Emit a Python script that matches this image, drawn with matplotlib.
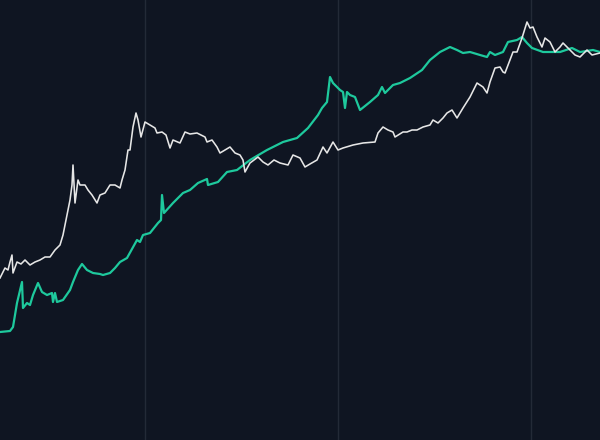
import matplotlib
matplotlib.use("Agg")
import matplotlib.pyplot as plt

# traced series (x position, value)
price_x = [0, 3, 5, 8, 10, 12, 13, 17, 21, 25, 30, 35, 40, 45, 50, 55, 60, 63, 66, 70, 72, 73, 75,
           78, 80, 85, 88, 92, 97, 100, 105, 110, 115, 120, 122, 125, 128, 130, 133, 136, 138, 141,
           145, 150, 155, 157, 162, 166, 170, 173, 180, 185, 190, 197, 205, 207, 212, 217, 220, 225,
           230, 235, 240, 243, 245, 250, 258, 263, 268, 274, 280, 288, 293, 300, 305, 310, 317, 323,
           327, 333, 338, 343, 353, 363, 375, 378, 383, 388, 393, 395, 403, 407, 412, 417, 423, 430,
           433, 438, 443, 447, 452, 457, 463, 470, 477, 483, 487, 490, 495, 500, 503, 505, 510, 513,
           517, 522, 527, 530, 533, 537, 542, 545, 550, 555, 560, 563, 568, 575, 580, 587, 592, 600]
price_y = [162, 168, 172, 170, 178, 185, 167, 178, 176, 180, 175, 178, 180, 183, 183, 190, 195, 205,
           220, 240, 255, 275, 237, 260, 255, 255, 250, 245, 237, 245, 247, 255, 255, 252, 260, 270,
           290, 290, 313, 327, 320, 303, 318, 315, 312, 307, 308, 305, 292, 300, 297, 308, 306, 307,
           303, 298, 300, 293, 287, 290, 293, 287, 285, 280, 268, 277, 283, 278, 275, 280, 277, 275,
           285, 282, 273, 276, 280, 293, 287, 298, 290, 292, 295, 297, 298, 307, 313, 310, 308, 303,
           308, 308, 310, 310, 313, 315, 320, 317, 322, 327, 330, 322, 332, 343, 357, 353, 347, 358,
           372, 373, 368, 367, 380, 388, 388, 402, 418, 412, 413, 403, 393, 402, 398, 388, 393, 397,
           392, 385, 383, 390, 385, 387]

model_x = [0, 10, 13, 17, 22, 23, 27, 30, 33, 38, 42, 47, 52, 53, 55, 57, 63, 70, 73, 78, 82, 87,
           93, 100, 103, 110, 115, 120, 127, 137, 140, 143, 150, 158, 161, 162, 164, 173, 183, 190,
           198, 207, 208, 218, 227, 237, 250, 267, 283, 297, 308, 318, 322, 327, 330, 333, 340, 343,
           345, 347, 350, 355, 360, 370, 378, 382, 385, 393, 400, 410, 422, 430, 440, 450, 457, 463,
           470, 480, 487, 490, 495, 503, 508, 517, 522, 527, 532, 543, 560, 572, 580, 593, 600]
model_y = [108, 109, 113, 137, 158, 132, 137, 135, 145, 157, 148, 145, 147, 138, 147, 138, 140, 150,
           158, 170, 176, 170, 167, 166, 165, 167, 172, 178, 182, 200, 198, 205, 207, 217, 220, 245,
           227, 237, 247, 250, 257, 261, 255, 258, 268, 270, 280, 290, 298, 302, 312, 325, 332, 338,
           363, 357, 350, 348, 332, 348, 345, 343, 330, 338, 345, 353, 347, 355, 357, 362, 370, 380,
           388, 393, 390, 387, 388, 385, 383, 388, 385, 388, 398, 400, 403, 397, 392, 388, 388, 392,
           388, 390, 388]

bg = '#0f1522'
fig = plt.figure(figsize=(6, 4.4), dpi=100, facecolor=bg)
ax = fig.add_axes([0, 0, 1, 1], facecolor=bg)

ax.plot(model_x, model_y, color='#1ec99d', linewidth=1.6)
ax.plot(price_x, price_y, color='#e6e6e6', linewidth=1.15)

ax.set_xlim(0, 600)
ax.set_ylim(0, 440)
ax.set_xticks([144.5, 338, 531])
ax.set_yticks([])
ax.grid(axis='x', color='#232a37', linewidth=1)
ax.tick_params(length=0, labelbottom=False)
for s in ax.spines.values():
    s.set_visible(False)

fig.savefig('out.png', dpi=100, facecolor=bg)
